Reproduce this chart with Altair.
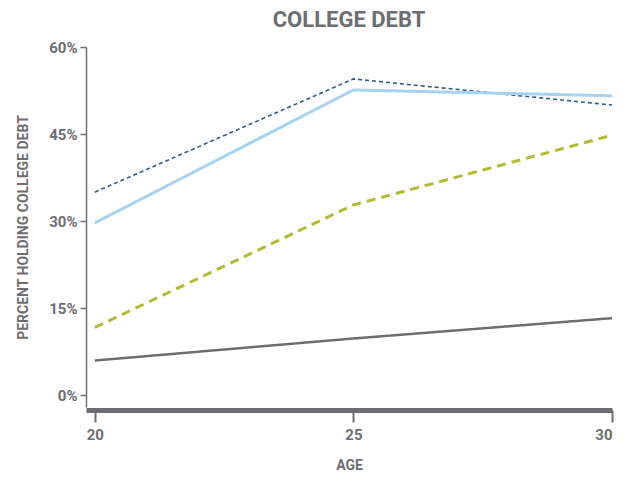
import altair as alt
import pandas as pd

ages = [20, 25, 30]
series_names = ["Series A", "Series B", "Series C", "Series D"]
series_a = [35.0, 54.5, 50.0]   # dark blue dotted
series_b = [29.7, 52.6, 51.6]   # light blue solid
series_c = [11.7, 32.8, 44.8]   # olive dashed
series_d = [6.0, 9.8, 13.3]     # gray solid
y_ticks = [0, 15, 30, 45, 60]
x_ticks = [20, 25, 30]

colors = ["#2e5a8e", "#a7d3f0", "#b3bb34", "#6d6e71"]
dashes = [[4, 3], [1, 0], [9, 6], [1, 0]]
widths = [1.6, 3, 3, 2.5]

rows = []
for name, vals in zip(series_names, [series_a, series_b, series_c, series_d]):
    for a, v in zip(ages, vals):
        rows.append({"series": name, "age": a, "pct": v})
df = pd.DataFrame(rows)

FONT = "Roboto"
GRAY = "#6d6e71"

layers = []
for name, c, d, w in zip(series_names, colors, dashes, widths):
    layers.append(
        alt.Chart(df[df.series == name]).mark_line(
            color=c, strokeDash=d, strokeWidth=w
        ).encode(
            x=alt.X("age:Q",
                    scale=alt.Scale(domain=[19.83, 30], nice=False, zero=False),
                    axis=alt.Axis(values=x_ticks, title="AGE", grid=False,
                                  domainWidth=5, domainColor=GRAY, offset=3,
                                  tickSize=12, tickWidth=2, tickColor=GRAY,
                                  labelFontSize=15, labelFont=FONT, labelFontWeight="bold",
                                  labelColor=GRAY, labelPadding=5,
                                  titleFont=FONT, titleFontSize=14, titleFontWeight="bold",
                                  titleColor=GRAY, titlePadding=16)),
            y=alt.Y("pct:Q",
                    scale=alt.Scale(domain=[-2, 60], nice=False, zero=False),
                    axis=alt.Axis(values=y_ticks, labelExpr="datum.value + '%'",
                                  title="PERCENT HOLDING COLLEGE DEBT", grid=False,
                                  domainWidth=1.5, domainColor=GRAY,
                                  tickSize=6, tickWidth=1.5, tickColor=GRAY,
                                  labelFontSize=15, labelFont=FONT, labelFontWeight="bold",
                                  labelColor=GRAY, labelPadding=3,
                                  titleFont=FONT, titleFontSize=14, titleFontWeight="bold",
                                  titleColor=GRAY, titlePadding=18)),
        )
    )

chart = alt.layer(*layers).properties(
    width=526, height=360,
    padding={"left": 8, "top": 1, "right": 0, "bottom": 0},
    title=alt.TitleParams("COLLEGE DEBT", font=FONT, fontSize=22, fontWeight="bold",
                          color=GRAY, anchor="middle", offset=8),
).configure_view(stroke=None)

chart.save("out.html", embed_options={"renderer": "svg", "actions": False})
